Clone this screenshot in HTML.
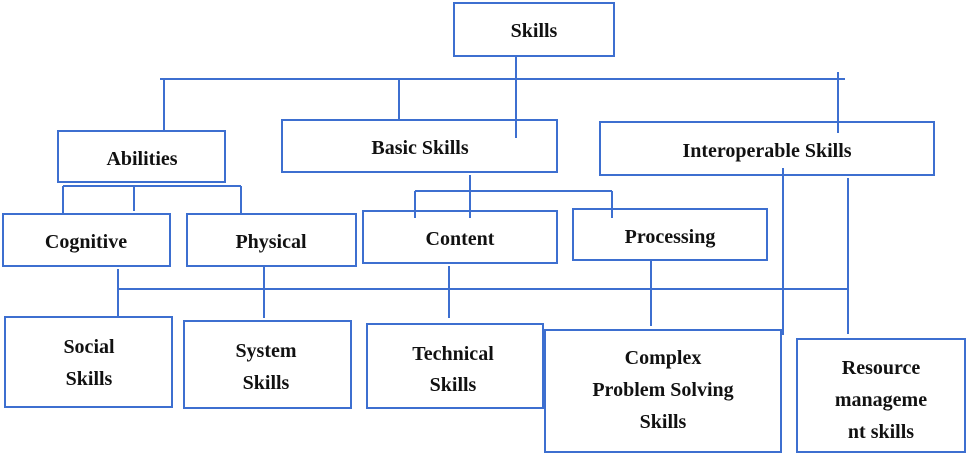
<!DOCTYPE html>
<html><head><style>body{margin:0;background:#fff}svg{display:block}text{font-family:"Liberation Serif",serif;font-weight:bold;font-size:20px;fill:#111;text-anchor:middle}</style></head>
<body>
<svg width="970" height="457" viewBox="0 0 970 457">
<g fill="none" stroke="#3d6fd0" stroke-width="2">
<rect x="454" y="3" width="160" height="53"/>
<rect x="58" y="131" width="167" height="51"/>
<rect x="282" y="120" width="275" height="52"/>
<rect x="600" y="122" width="334" height="53"/>
<rect x="3" y="214" width="167" height="52"/>
<rect x="187" y="214" width="169" height="52"/>
<rect x="363" y="211" width="194" height="52"/>
<rect x="573" y="209" width="194" height="51"/>
<rect x="5" y="317" width="167" height="90"/>
<rect x="184" y="321" width="167" height="87"/>
<rect x="367" y="324" width="176" height="84"/>
<rect x="545" y="330" width="236" height="122"/>
<rect x="797" y="339" width="168" height="113"/>
<path d="M160 79H845M164 79V130M399 79V120M516 56V138M838 72V133"/>
<path d="M63 186H241M63 186V214M134 186V211M241 186V214"/>
<path d="M470 175V218M415 191H612M415 191V218M612 191V218"/>
<path d="M783 168V335M848 178V334"/>
<path d="M118 289H849M118 269V316M264 266V318M449 266V318M651 260V326"/>
</g>
<text x="534" y="37">Skills</text>
<text x="142" y="165">Abilities</text>
<text x="420" y="154">Basic Skills</text>
<text x="767" y="157">Interoperable Skills</text>
<text x="86" y="248">Cognitive</text>
<text x="271" y="248">Physical</text>
<text x="460" y="245">Content</text>
<text x="670" y="243">Processing</text>
<text x="89" y="353">Social</text>
<text x="89" y="385">Skills</text>
<text x="266" y="357">System</text>
<text x="266" y="389">Skills</text>
<text x="453" y="360">Technical</text>
<text x="453" y="391">Skills</text>
<text x="663" y="364">Complex</text>
<text x="663" y="396">Problem Solving</text>
<text x="663" y="428">Skills</text>
<text x="881" y="374">Resource</text>
<text x="881" y="406">manageme</text>
<text x="881" y="438">nt skills</text>
</svg>
</body></html>
